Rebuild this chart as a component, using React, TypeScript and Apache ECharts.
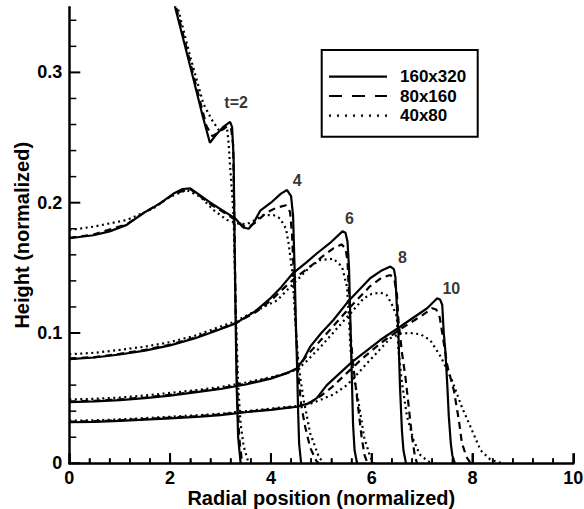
import React, { useEffect, useRef } from 'react';
import * as echarts from 'echarts';

// ---- data (x: radial position, y: height) ----
const T2_SOLID = [[2.0,0.382],[2.10,0.35],[2.43,0.30],[2.65,0.266],[2.79,0.246],[2.93,0.253],[3.05,0.258],[3.19,0.262],[3.23,0.258],[3.26,0.235],[3.28,0.17],[3.30,0.11],[3.32,0.06],[3.35,0.02],[3.40,0]];
const T2_DASH = [[2.0,0.386],[2.12,0.35],[2.45,0.30],[2.72,0.259],[2.84,0.251],[3.0,0.255],[3.15,0.259],[3.21,0.257],[3.25,0.245],[3.27,0.2],[3.30,0.12],[3.33,0.06],[3.37,0.02],[3.43,0]];
const T2_DOT = [[2.0,0.39],[2.15,0.35],[2.40,0.312],[2.66,0.276],[2.83,0.2635],[2.96,0.256],[3.08,0.257],[3.13,0.257],[3.16,0.246],[3.19,0.228],[3.23,0.207],[3.26,0.189],[3.30,0.12],[3.35,0.06],[3.40,0.03],[3.46,0.013],[3.56,0]];

const T4_SOLID = [[0,0.1727],[0.48,0.175],[0.8,0.178],[1.14,0.183],[1.47,0.192],[1.80,0.1995],[2.07,0.207],[2.25,0.2105],[2.40,0.211],[2.8,0.2],[3.29,0.188],[3.45,0.181],[3.56,0.18],[3.65,0.184],[3.79,0.194],[4.0,0.2],[4.2,0.207],[4.32,0.2097],[4.40,0.205],[4.44,0.19],[4.47,0.15],[4.50,0.10],[4.52,0.074],[4.54,0.04],[4.56,0.015],[4.60,0]];
const T4_DASH = [[0,0.173],[0.48,0.1755],[1.14,0.1835],[1.47,0.192],[1.80,0.1995],[2.07,0.2065],[2.25,0.209],[2.40,0.2105],[2.8,0.199],[3.29,0.187],[3.45,0.182],[3.56,0.1815],[3.70,0.185],[3.90,0.192],[4.10,0.196],[4.30,0.198],[4.38,0.193],[4.42,0.175],[4.46,0.14],[4.50,0.10],[4.54,0.07],[4.60,0.045],[4.68,0.028],[4.78,0.012],[4.90,0.002],[4.95,0]];
const T4_DOT = [[0,0.179],[0.48,0.1816],[1.14,0.1867],[1.67,0.1957],[2.0,0.2046],[2.33,0.2097],[2.6,0.2046],[2.86,0.1944],[3.13,0.1867],[3.35,0.184],[3.52,0.1835],[3.70,0.187],[3.85,0.1905],[4.05,0.1905],[4.18,0.188],[4.30,0.18],[4.35,0.169],[4.42,0.148],[4.46,0.125],[4.50,0.10],[4.54,0.08],[4.58,0.0665],[4.65,0.0486],[4.78,0.023],[4.95,0.005],[5.05,0]];

const T6_SOLID = [[0,0.08],[0.5,0.0812],[1.0,0.0835],[1.5,0.0865],[2.0,0.0905],[2.5,0.096],[2.86,0.101],[3.3,0.1074],[3.7,0.117],[4.0,0.127],[4.2,0.135],[4.44,0.146],[4.7,0.154],[4.91,0.161],[5.2,0.17],[5.42,0.178],[5.48,0.177],[5.52,0.17],[5.55,0.15],[5.57,0.12],[5.59,0.09],[5.61,0.06],[5.63,0.03],[5.66,0.01],[5.71,0]];
const T6_DASH = [[0,0.0805],[0.5,0.0815],[1.0,0.084],[1.5,0.087],[2.0,0.091],[2.5,0.0965],[2.86,0.1015],[3.3,0.1075],[3.7,0.116],[4.0,0.125],[4.3,0.136],[4.5,0.143],[4.75,0.15],[5.0,0.158],[5.24,0.165],[5.40,0.168],[5.48,0.165],[5.52,0.155],[5.55,0.13],[5.58,0.10],[5.62,0.08],[5.68,0.06],[5.74,0.04],[5.80,0.02],[5.86,0.006],[5.92,0]];
const T6_DOT = [[0,0.0837],[0.5,0.0848],[1.0,0.087],[1.5,0.0895],[2.0,0.093],[2.5,0.098],[2.86,0.103],[3.3,0.109],[3.7,0.117],[4.12,0.125],[4.35,0.134],[4.58,0.143],[4.78,0.151],[4.98,0.156],[5.24,0.157],[5.41,0.151],[5.51,0.1355],[5.55,0.11],[5.58,0.087],[5.65,0.065],[5.73,0.049],[5.85,0.02],[5.97,0.005],[6.05,0]];

const T8_SOLID = [[0,0.047],[0.5,0.0475],[1.0,0.0485],[1.5,0.05],[2.0,0.052],[2.6,0.055],[3.0,0.057],[3.5,0.0605],[4.0,0.065],[4.3,0.069],[4.52,0.073],[4.65,0.08],[4.78,0.0895],[5.0,0.1],[5.24,0.11],[5.55,0.125],[5.97,0.142],[6.2,0.148],[6.37,0.151],[6.44,0.149],[6.47,0.143],[6.50,0.12],[6.53,0.10],[6.56,0.06],[6.60,0.025],[6.63,0.01],[6.68,0]];
const T8_DASH = [[0,0.0475],[0.5,0.048],[1.0,0.049],[1.5,0.0505],[2.0,0.0525],[2.6,0.0555],[3.0,0.0575],[3.5,0.061],[4.0,0.0655],[4.3,0.069],[4.52,0.0725],[4.7,0.082],[5.0,0.095],[5.3,0.108],[5.6,0.121],[5.97,0.136],[6.2,0.1425],[6.37,0.1445],[6.45,0.141],[6.50,0.13],[6.53,0.11],[6.60,0.085],[6.67,0.066],[6.73,0.045],[6.80,0.02],[6.86,0.005],[6.9,0]];
const T8_DOT = [[0,0.049],[0.5,0.0495],[1.0,0.0505],[1.5,0.052],[2.0,0.054],[2.6,0.0565],[3.0,0.0585],[3.5,0.062],[4.0,0.066],[4.3,0.069],[4.52,0.072],[4.7,0.078],[5.0,0.09],[5.3,0.103],[5.6,0.116],[5.84,0.1266],[6.0,0.13],[6.17,0.131],[6.30,0.129],[6.40,0.122],[6.50,0.1125],[6.53,0.087],[6.60,0.062],[6.70,0.036],[6.83,0.018],[6.95,0.007],[7.10,0.002],[7.2,0]];

const T10_SOLID = [[0,0.0315],[0.5,0.0318],[1.0,0.0325],[1.5,0.0335],[2.0,0.0345],[2.6,0.0358],[3.0,0.037],[3.5,0.0392],[4.0,0.041],[4.52,0.0434],[4.75,0.046],[4.91,0.05],[5.11,0.06],[5.6,0.0775],[6.17,0.0946],[6.57,0.105],[7.1,0.119],[7.30,0.1266],[7.36,0.1255],[7.40,0.1215],[7.43,0.10],[7.46,0.087],[7.50,0.06],[7.53,0.036],[7.57,0.015],[7.60,0.006],[7.65,0]];
const T10_DASH = [[0,0.032],[0.5,0.0323],[1.0,0.033],[1.5,0.034],[2.0,0.035],[2.6,0.0363],[3.0,0.0375],[3.5,0.0395],[4.0,0.0415],[4.52,0.0435],[4.8,0.047],[5.0,0.052],[5.2,0.058],[5.5,0.069],[5.8,0.08],[6.17,0.092],[6.57,0.103],[7.0,0.1135],[7.2,0.119],[7.28,0.118],[7.35,0.112],[7.42,0.095],[7.50,0.075],[7.63,0.056],[7.73,0.033],[7.79,0.0155],[7.88,0.005],[7.96,0]];
const T10_DOT = [[0,0.0327],[0.5,0.033],[1.0,0.0337],[1.5,0.0347],[2.0,0.0357],[2.6,0.037],[3.0,0.038],[3.5,0.04],[4.0,0.042],[4.52,0.044],[4.8,0.046],[5.0,0.049],[5.25,0.053],[5.51,0.06],[5.75,0.07],[5.97,0.0794],[6.2,0.089],[6.37,0.096],[6.55,0.0995],[6.77,0.1],[6.97,0.099],[7.16,0.0946],[7.37,0.0818],[7.59,0.064],[7.79,0.043],[7.96,0.028],[8.16,0.01],[8.35,0.003],[8.49,0.001],[8.6,0]];

const RESOLUTIONS = ['160x320', '80x160', '40x80'];
const SOLID_SET = [T2_SOLID, T4_SOLID, T6_SOLID, T8_SOLID, T10_SOLID];
const DASH_SET = [T2_DASH, T4_DASH, T6_DASH, T8_DASH, T10_DASH];
const DOT_SET = [T2_DOT, T4_DOT, T6_DOT, T8_DOT, T10_DOT];

const TIME_LABELS = ['t=2', '4', '6', '8', '10'];
const TIME_LABEL_X = [3.31, 4.52, 5.56, 6.61, 7.58];
const TIME_LABEL_Y = [0.277, 0.2174, 0.1875, 0.1576, 0.1345];

// tick values
const X_MAJOR = [0, 2, 4, 6, 8, 10];
const X_MINOR = [0.4, 0.8, 1.2, 1.6, 2.4, 2.8, 3.2, 3.6, 4.4, 4.8, 5.2, 5.6, 6.4, 6.8, 7.2, 7.6, 8.4, 8.8, 9.2, 9.6];
const Y_MAJOR = [0, 0.1, 0.2, 0.3];
const Y_MINOR = [0.02, 0.04, 0.06, 0.08, 0.12, 0.14, 0.16, 0.18, 0.22, 0.24, 0.26, 0.28, 0.32, 0.34];

const FONT = '"Liberation Sans", Arial, Helvetica, sans-serif';
const DASH_PATTERN = [7, 5];
const DOT_PATTERN = [2, 3.5];

export default function App() {
  const ref = useRef<HTMLDivElement>(null);
  useEffect(() => {
    if (!ref.current) return;
    const chart = echarts.init(ref.current, null, { renderer: 'svg' });
    const styles = [
      { type: 'solid' as any, width: 2.2 },
      { type: DASH_PATTERN as any, width: 2.2 },
      { type: DOT_PATTERN as any, width: 2.2 },
    ];
    const sets = [SOLID_SET, DASH_SET, DOT_SET];
    const series: any[] = [];
    sets.forEach((set, r) => {
      set.forEach((d) => {
        series.push({
          type: 'line',
          name: RESOLUTIONS[r],
          data: d,
          symbol: 'none',
          silent: true,
          lineStyle: { color: '#000', width: styles[r].width, type: styles[r].type },
        });
      });
    });
    series.push({
      type: 'scatter',
      symbolSize: 1,
      itemStyle: { color: 'rgba(0,0,0,0)' },
      silent: true,
      z: 5,
      data: TIME_LABELS.map((n, i) => ({ name: n, value: [TIME_LABEL_X[i], TIME_LABEL_Y[i]] })),
      label: {
        show: true,
        position: 'inside',
        formatter: '{b}',
        color: '#000',
        fontFamily: FONT,
        fontWeight: 'bold',
        fontSize: 16,
      },
    });

    const legendY = [76.7, 96, 115.7];
    const legendDash: any[] = [null, [13, 10], [2, 6]];
    const graphic: any[] = [
      { type: 'rect', shape: { x: 321.7, y: 50, width: 156, height: 86.7 }, style: { fill: '#fff', stroke: '#000', lineWidth: 2 }, z: 10 },
    ];
    RESOLUTIONS.forEach((name, i) => {
      graphic.push({
        type: 'line',
        shape: { x1: 329, y1: legendY[i], x2: 387, y2: legendY[i] },
        style: legendDash[i] ? { stroke: '#000', lineWidth: 2.2, lineDash: legendDash[i] } : { stroke: '#000', lineWidth: 2.2 },
        z: 11,
      });
      graphic.push({
        type: 'text',
        x: 400,
        y: legendY[i],
        style: { text: name, fill: '#000', font: `bold 17px ${FONT}`, verticalAlign: 'middle', align: 'left' },
        z: 11,
      });
    });

    chart.setOption({
      animation: false,
      backgroundColor: '#fff',
      grid: [{ left: 69.3, right: 10.7, bottom: 45.7, top: 7.25, outerBoundsMode: 'none' }],
      xAxis: [
        {
          type: 'value',
          min: 0,
          max: 10,
          interval: 2,
          name: 'Radial position (normalized)',
          nameLocation: 'middle',
          nameGap: 25,
          nameMoveOverlap: false,
          nameTextStyle: { color: '#000', fontFamily: FONT, fontWeight: 'bold', fontSize: 20 },
          axisLine: { show: true, onZero: false, lineStyle: { color: '#000', width: 2.5 } },
          axisTick: { show: true, inside: true, length: 10, lineStyle: { color: '#000', width: 2 } },
          minorTick: { show: true, splitNumber: 5, length: 5, lineStyle: { color: '#000', width: 1.5 } },
          splitLine: { show: false },
          axisLabel: { color: '#000', fontFamily: FONT, fontWeight: 'bold', fontSize: 18, margin: 6 },
        },
      ],
      yAxis: [
        {
          type: 'value',
          min: 0,
          max: 0.35,
          name: 'Height (normalized)',
          nameLocation: 'middle',
          nameGap: 37,
          nameMoveOverlap: false,
          nameTextStyle: { color: '#000', fontFamily: FONT, fontWeight: 'bold', fontSize: 20 },
          axisLine: { show: true, onZero: false, lineStyle: { color: '#000', width: 2.5 } },
          axisTick: { show: false },
          splitLine: { show: false },
          axisLabel: {
            color: '#000',
            fontFamily: FONT,
            fontWeight: 'bold',
            fontSize: 18,
            margin: 7,
            customValues: Y_MAJOR,
            formatter: (v: number) => (v === 0 ? '0' : v.toFixed(1)),
          },
        },
      ],
      graphic,
      series,
    });

    // inward y ticks (and x ticks again) placed with the axes' own scales
    const ticks: any[] = [];
    const addX = (vals: number[], len: number, w: number) =>
      vals.forEach((v) => {
        const p = chart.convertToPixel({ gridIndex: 0 }, [v, 0]) as number[];
        ticks.push({ type: 'line', shape: { x1: p[0], y1: p[1], x2: p[0], y2: p[1] - len }, style: { stroke: '#000', lineWidth: w }, z: 12 });
      });
    const addY = (vals: number[], len: number, w: number) =>
      vals.forEach((v) => {
        const p = chart.convertToPixel({ gridIndex: 0 }, [0, v]) as number[];
        ticks.push({ type: 'line', shape: { x1: p[0], y1: p[1], x2: p[0] + len, y2: p[1] }, style: { stroke: '#000', lineWidth: w }, z: 12 });
      });
    addX(X_MAJOR, 10, 2);
    addX(X_MINOR, 5, 1.5);
    addY(Y_MAJOR, 11, 2);
    addY(Y_MINOR, 7, 1.5);
    chart.setOption({ graphic: [...graphic, ...ticks] });

    return () => chart.dispose();
  }, []);
  return (
    <div
      ref={ref}
      style={{ position: 'fixed', left: 0, top: 0, width: 584, height: 509, background: '#fff' }}
    />
  );
}
